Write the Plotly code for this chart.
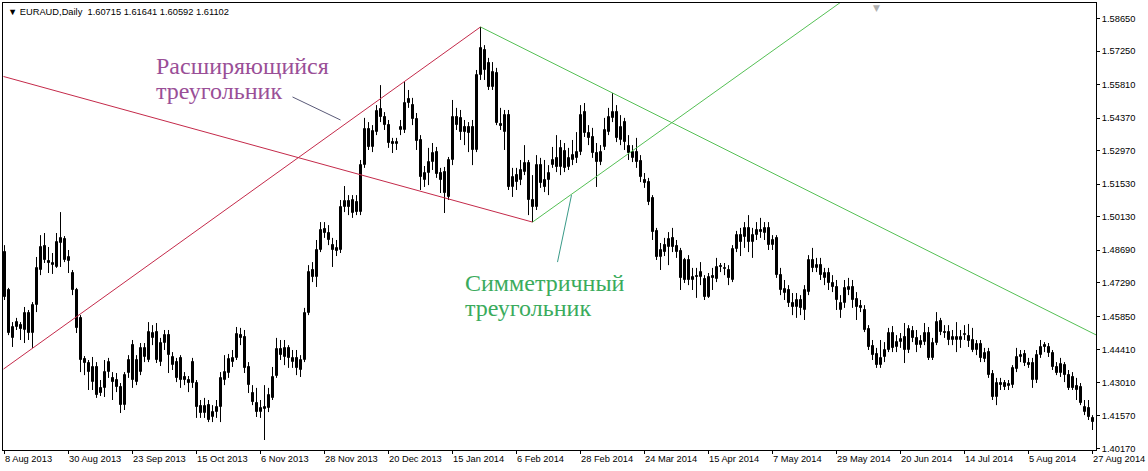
import plotly.graph_objects as go

# ---- EURAUD daily candles (8 Aug 2013 .. 27 Aug 2014) ----
open_prices = [
    1.4861, 1.4698, 1.4492, 1.4539, 1.4547, 1.4526, 1.4599, 1.4513, 1.4633, 1.4784,
    1.4887, 1.4823, 1.4805, 1.4797, 1.4900, 1.4917, 1.4823, 1.4771, 1.4698, 1.4578,
    1.4401, 1.4384, 1.4302, 1.4367, 1.4277, 1.4277, 1.4345, 1.4320, 1.4311, 1.4281,
    1.4203, 1.4341, 1.4461, 1.4302, 1.4345, 1.4410, 1.4397, 1.4492, 1.4517, 1.4388,
    1.4470, 1.4504, 1.4375, 1.4388, 1.4406, 1.4324, 1.4311, 1.4388, 1.4298, 1.4199,
    1.4169, 1.4203, 1.4152, 1.4173, 1.4195, 1.4311, 1.4341, 1.4388, 1.4406, 1.4504,
    1.4496, 1.4367, 1.4255, 1.4212, 1.4173, 1.4186, 1.4191, 1.4234, 1.4328, 1.4444,
    1.4410, 1.4449, 1.4388, 1.4406, 1.4354, 1.4397, 1.4599, 1.4784, 1.4754, 1.4870,
    1.4960, 1.4943, 1.4891, 1.4866, 1.4870, 1.5055, 1.5081, 1.5029, 1.5076, 1.5033,
    1.5235, 1.5390, 1.5313, 1.5377, 1.5476, 1.5442, 1.5407, 1.5334, 1.5326, 1.5386,
    1.5386, 1.5519, 1.5493, 1.5433, 1.5343, 1.5171, 1.5201, 1.5248, 1.5291, 1.5201,
    1.5205, 1.5098, 1.5257, 1.5442, 1.5438, 1.5399, 1.5399, 1.5399, 1.5300, 1.5622,
    1.5730, 1.5674, 1.5571, 1.5631, 1.5412, 1.5377, 1.5450, 1.5141, 1.5192, 1.5171,
    1.5205, 1.5244, 1.5085, 1.5055, 1.5235, 1.5171, 1.5171, 1.5235, 1.5266, 1.5227,
    1.5296, 1.5227, 1.5257, 1.5266, 1.5291, 1.5463, 1.5373, 1.5356, 1.5287, 1.5248,
    1.5313, 1.5377, 1.5438, 1.5463, 1.5343, 1.5420, 1.5317, 1.5266, 1.5291, 1.5253,
    1.5171, 1.5162, 1.5094, 1.4952, 1.4840, 1.4891, 1.4883, 1.4922, 1.4887, 1.4866,
    1.4827, 1.4827, 1.4741, 1.4758, 1.4754, 1.4745, 1.4668, 1.4758, 1.4745, 1.4801,
    1.4788, 1.4784, 1.4741, 1.4874, 1.4934, 1.4926, 1.4965, 1.4904, 1.4934, 1.4956,
    1.4943, 1.4965, 1.4891, 1.4922, 1.4762, 1.4685, 1.4698, 1.4642, 1.4625, 1.4655,
    1.4612, 1.4689, 1.4827, 1.4793, 1.4805, 1.4750, 1.4771, 1.4728, 1.4711, 1.4612,
    1.4642, 1.4698, 1.4711, 1.4659, 1.4629, 1.4612, 1.4530, 1.4457, 1.4423, 1.4375,
    1.4410, 1.4440, 1.4513, 1.4453, 1.4474, 1.4496, 1.4440, 1.4522, 1.4492, 1.4461,
    1.4474, 1.4513, 1.4406, 1.4470, 1.4565, 1.4517, 1.4517, 1.4483, 1.4483, 1.4483,
    1.4504, 1.4500, 1.4483, 1.4440, 1.4466, 1.4401, 1.4431, 1.4337, 1.4238, 1.4298,
    1.4298, 1.4285, 1.4289, 1.4358, 1.4410, 1.4423, 1.4384, 1.4384, 1.4311, 1.4418,
    1.4461, 1.4453, 1.4427, 1.4367, 1.4341, 1.4375, 1.4332, 1.4324, 1.4285, 1.4281,
    1.4173, 1.4191, 1.4148,
]
high_prices = [
    1.4891, 1.4707, 1.4560, 1.4578, 1.4560, 1.4625, 1.4612, 1.4646, 1.4840, 1.4934,
    1.4943, 1.4883, 1.4857, 1.4943, 1.5033, 1.4930, 1.4870, 1.4784, 1.4707, 1.4590,
    1.4414, 1.4397, 1.4410, 1.4388, 1.4311, 1.4397, 1.4406, 1.4345, 1.4341, 1.4298,
    1.4345, 1.4418, 1.4483, 1.4418, 1.4470, 1.4470, 1.4560, 1.4547, 1.4556, 1.4492,
    1.4526, 1.4526, 1.4431, 1.4406, 1.4418, 1.4345, 1.4328, 1.4406, 1.4311, 1.4225,
    1.4234, 1.4225, 1.4203, 1.4225, 1.4345, 1.4418, 1.4423, 1.4440, 1.4539, 1.4535,
    1.4526, 1.4388, 1.4289, 1.4277, 1.4225, 1.4289, 1.4277, 1.4367, 1.4492, 1.4483,
    1.4483, 1.4461, 1.4440, 1.4440, 1.4418, 1.4621, 1.4805, 1.4818, 1.4913, 1.4990,
    1.4990, 1.4977, 1.4922, 1.4913, 1.5085, 1.5145, 1.5106, 1.5106, 1.5106, 1.5257,
    1.5438, 1.5420, 1.5407, 1.5493, 1.5579, 1.5463, 1.5429, 1.5352, 1.5352, 1.5429,
    1.5592, 1.5558, 1.5524, 1.5459, 1.5364, 1.5231, 1.5309, 1.5330, 1.5313, 1.5223,
    1.5227, 1.5270, 1.5515, 1.5481, 1.5472, 1.5429, 1.5420, 1.5429, 1.5644, 1.5829,
    1.5751, 1.5696, 1.5678, 1.5653, 1.5481, 1.5472, 1.5472, 1.5223, 1.5223, 1.5257,
    1.5321, 1.5257, 1.5192, 1.5278, 1.5266, 1.5257, 1.5235, 1.5313, 1.5364, 1.5343,
    1.5330, 1.5309, 1.5343, 1.5377, 1.5493, 1.5502, 1.5407, 1.5395, 1.5330, 1.5321,
    1.5438, 1.5481, 1.5545, 1.5493, 1.5450, 1.5438, 1.5364, 1.5321, 1.5352, 1.5278,
    1.5201, 1.5180, 1.5106, 1.4965, 1.4900, 1.4922, 1.4947, 1.4965, 1.4913, 1.4879,
    1.4836, 1.4848, 1.4793, 1.4793, 1.4818, 1.4762, 1.4771, 1.4793, 1.4836, 1.4814,
    1.4814, 1.4805, 1.4891, 1.4952, 1.4965, 1.4990, 1.5020, 1.4965, 1.4990, 1.5008,
    1.4990, 1.4990, 1.4934, 1.4934, 1.4793, 1.4741, 1.4719, 1.4685, 1.4685, 1.4676,
    1.4719, 1.4848, 1.4879, 1.4836, 1.4836, 1.4793, 1.4793, 1.4762, 1.4741, 1.4676,
    1.4741, 1.4750, 1.4741, 1.4689, 1.4655, 1.4633, 1.4547, 1.4483, 1.4449, 1.4483,
    1.4474, 1.4535, 1.4543, 1.4504, 1.4513, 1.4556, 1.4547, 1.4543, 1.4526, 1.4504,
    1.4556, 1.4539, 1.4492, 1.4603, 1.4578, 1.4547, 1.4547, 1.4526, 1.4560, 1.4526,
    1.4547, 1.4552, 1.4535, 1.4483, 1.4483, 1.4449, 1.4449, 1.4354, 1.4320, 1.4320,
    1.4311, 1.4311, 1.4375, 1.4449, 1.4440, 1.4440, 1.4406, 1.4406, 1.4440, 1.4483,
    1.4474, 1.4470, 1.4440, 1.4388, 1.4406, 1.4388, 1.4354, 1.4345, 1.4320, 1.4298,
    1.4225, 1.4225, 1.4160,
]
low_prices = [
    1.4655, 1.4504, 1.4453, 1.4526, 1.4483, 1.4470, 1.4483, 1.4449, 1.4603, 1.4762,
    1.4814, 1.4771, 1.4767, 1.4793, 1.4797, 1.4818, 1.4771, 1.4676, 1.4513, 1.4345,
    1.4332, 1.4268, 1.4268, 1.4234, 1.4242, 1.4238, 1.4320, 1.4225, 1.4259, 1.4169,
    1.4182, 1.4320, 1.4277, 1.4289, 1.4332, 1.4388, 1.4388, 1.4461, 1.4384, 1.4371,
    1.4440, 1.4341, 1.4354, 1.4302, 1.4277, 1.4289, 1.4259, 1.4277, 1.4148, 1.4148,
    1.4148, 1.4130, 1.4130, 1.4148, 1.4130, 1.4289, 1.4320, 1.4367, 1.4397, 1.4461,
    1.4341, 1.4255, 1.4203, 1.4152, 1.4148, 1.4053, 1.4173, 1.4225, 1.4320, 1.4397,
    1.4375, 1.4363, 1.4363, 1.4332, 1.4324, 1.4388, 1.4590, 1.4732, 1.4711, 1.4861,
    1.4922, 1.4891, 1.4797, 1.4844, 1.4857, 1.5033, 1.5020, 1.5008, 1.5020, 1.5020,
    1.5223, 1.5300, 1.5291, 1.5364, 1.5420, 1.5386, 1.5309, 1.5287, 1.5300, 1.5364,
    1.5373, 1.5481, 1.5407, 1.5300, 1.5128, 1.5141, 1.5149, 1.5214, 1.5180, 1.5115,
    1.5029, 1.5085, 1.5235, 1.5386, 1.5343, 1.5321, 1.5291, 1.5235, 1.5291, 1.5601,
    1.5601, 1.5558, 1.5558, 1.5407, 1.5386, 1.5300, 1.5128, 1.5098, 1.5128, 1.5149,
    1.5192, 1.5020, 1.4990, 1.5042, 1.5137, 1.5119, 1.5106, 1.5223, 1.5205, 1.5192,
    1.5205, 1.5214, 1.5235, 1.5244, 1.5278, 1.5356, 1.5321, 1.5266, 1.5141, 1.5235,
    1.5300, 1.5364, 1.5420, 1.5334, 1.5321, 1.5300, 1.5257, 1.5248, 1.5223, 1.5162,
    1.5137, 1.5063, 1.4913, 1.4827, 1.4784, 1.4844, 1.4805, 1.4861, 1.4836, 1.4698,
    1.4728, 1.4719, 1.4698, 1.4664, 1.4719, 1.4655, 1.4664, 1.4698, 1.4732, 1.4775,
    1.4762, 1.4719, 1.4732, 1.4861, 1.4844, 1.4879, 1.4861, 1.4836, 1.4913, 1.4922,
    1.4913, 1.4870, 1.4870, 1.4750, 1.4676, 1.4655, 1.4625, 1.4590, 1.4578, 1.4590,
    1.4569, 1.4676, 1.4775, 1.4775, 1.4741, 1.4719, 1.4698, 1.4689, 1.4612, 1.4578,
    1.4621, 1.4676, 1.4621, 1.4569, 1.4603, 1.4517, 1.4440, 1.4397, 1.4363, 1.4363,
    1.4388, 1.4431, 1.4431, 1.4431, 1.4449, 1.4384, 1.4427, 1.4474, 1.4431, 1.4449,
    1.4461, 1.4397, 1.4397, 1.4461, 1.4504, 1.4492, 1.4461, 1.4461, 1.4431, 1.4449,
    1.4483, 1.4453, 1.4431, 1.4418, 1.4388, 1.4388, 1.4320, 1.4225, 1.4203, 1.4268,
    1.4268, 1.4268, 1.4277, 1.4345, 1.4388, 1.4371, 1.4363, 1.4277, 1.4298, 1.4406,
    1.4431, 1.4410, 1.4354, 1.4332, 1.4324, 1.4302, 1.4268, 1.4268, 1.4225, 1.4203,
    1.4160, 1.4139, 1.4096,
]
close_prices = [
    1.4668, 1.4513, 1.4539, 1.4560, 1.4530, 1.4599, 1.4513, 1.4633, 1.4793, 1.4883,
    1.4827, 1.4814, 1.4814, 1.4904, 1.4922, 1.4827, 1.4840, 1.4698, 1.4535, 1.4397,
    1.4384, 1.4345, 1.4367, 1.4246, 1.4255, 1.4345, 1.4388, 1.4302, 1.4281, 1.4203,
    1.4332, 1.4397, 1.4311, 1.4397, 1.4449, 1.4449, 1.4517, 1.4513, 1.4397, 1.4470,
    1.4504, 1.4418, 1.4410, 1.4320, 1.4311, 1.4311, 1.4298, 1.4298, 1.4195, 1.4169,
    1.4199, 1.4139, 1.4173, 1.4195, 1.4320, 1.4345, 1.4401, 1.4406, 1.4509, 1.4492,
    1.4363, 1.4289, 1.4216, 1.4173, 1.4191, 1.4195, 1.4246, 1.4324, 1.4444, 1.4418,
    1.4449, 1.4406, 1.4406, 1.4363, 1.4397, 1.4599, 1.4775, 1.4754, 1.4870, 1.4956,
    1.4943, 1.4913, 1.4870, 1.4879, 1.5055, 1.5081, 1.5055, 1.5085, 1.5033, 1.5235,
    1.5390, 1.5313, 1.5382, 1.5468, 1.5442, 1.5407, 1.5330, 1.5326, 1.5334, 1.5399,
    1.5502, 1.5502, 1.5433, 1.5339, 1.5184, 1.5201, 1.5248, 1.5287, 1.5197, 1.5171,
    1.5115, 1.5257, 1.5442, 1.5407, 1.5377, 1.5377, 1.5373, 1.5300, 1.5622, 1.5739,
    1.5644, 1.5571, 1.5635, 1.5416, 1.5403, 1.5450, 1.5141, 1.5184, 1.5162, 1.5214,
    1.5244, 1.5085, 1.5055, 1.5235, 1.5158, 1.5141, 1.5201, 1.5257, 1.5227, 1.5309,
    1.5223, 1.5266, 1.5278, 1.5291, 1.5450, 1.5373, 1.5352, 1.5287, 1.5248, 1.5291,
    1.5386, 1.5442, 1.5463, 1.5352, 1.5399, 1.5334, 1.5287, 1.5291, 1.5248, 1.5184,
    1.5158, 1.5076, 1.4947, 1.4840, 1.4870, 1.4861, 1.4917, 1.4883, 1.4861, 1.4750,
    1.4741, 1.4741, 1.4754, 1.4754, 1.4775, 1.4668, 1.4754, 1.4750, 1.4797, 1.4797,
    1.4793, 1.4750, 1.4874, 1.4934, 1.4904, 1.4965, 1.4904, 1.4934, 1.4956, 1.4947,
    1.4965, 1.4891, 1.4913, 1.4762, 1.4698, 1.4702, 1.4642, 1.4625, 1.4655, 1.4621,
    1.4698, 1.4827, 1.4793, 1.4805, 1.4762, 1.4771, 1.4728, 1.4711, 1.4655, 1.4642,
    1.4707, 1.4711, 1.4655, 1.4625, 1.4621, 1.4526, 1.4453, 1.4418, 1.4375, 1.4406,
    1.4440, 1.4513, 1.4449, 1.4474, 1.4487, 1.4440, 1.4530, 1.4492, 1.4461, 1.4479,
    1.4513, 1.4406, 1.4470, 1.4560, 1.4517, 1.4513, 1.4483, 1.4496, 1.4496, 1.4496,
    1.4509, 1.4479, 1.4440, 1.4466, 1.4406, 1.4427, 1.4332, 1.4238, 1.4298, 1.4289,
    1.4281, 1.4294, 1.4363, 1.4410, 1.4418, 1.4384, 1.4375, 1.4311, 1.4418, 1.4453,
    1.4453, 1.4427, 1.4367, 1.4341, 1.4380, 1.4332, 1.4277, 1.4277, 1.4268, 1.4212,
    1.4195, 1.4152, 1.4130,
]
bar_index = list(range(len(close_prices)))

# date labels every 16 daily bars
label_bars = [0, 16, 32, 48, 64, 80, 96, 112, 128, 144, 160, 176, 192, 208, 224, 240, 256, 272]
date_labels = ["8 Aug 2013", "30 Aug 2013", "23 Sep 2013", "15 Oct 2013", "6 Nov 2013",
               "28 Nov 2013", "20 Dec 2013", "15 Jan 2014", "6 Feb 2014", "28 Feb 2014",
               "24 Mar 2014", "15 Apr 2014", "7 May 2014", "29 May 2014", "20 Jun 2014",
               "14 Jul 2014", "5 Aug 2014", "27 Aug 2014"]

price_ticks = [1.40170, 1.41570, 1.43010, 1.44410, 1.45850, 1.47290, 1.48690,
               1.50130, 1.51530, 1.52970, 1.54370, 1.55810, 1.57250, 1.58650]
price_tick_text = ["%.5f" % v for v in price_ticks]

# trend lines (bar index, price)
expanding_upper_x, expanding_upper_y = [-0.25, 119], [1.4358, 1.5829]
expanding_lower_x, expanding_lower_y = [-0.25, 132], [1.5616, 1.4990]
symmetric_upper_x, symmetric_upper_y = [119, 273], [1.5829, 1.4504]
symmetric_lower_x, symmetric_lower_y = [132, 210], [1.4990, 1.5947]

RED = "#c42a4a"
GREEN = "#55c055"
PURPLE_TXT = "#9a4f97"
GREEN_TXT = "#3aab5c"
AXIS_FONT = dict(family="Liberation Sans, Arial, sans-serif", size=9.3, color="#000000")

fig = go.Figure()

# wicks (high-low) as one broken line
wick_x, wick_y = [], []
for i, h, l in zip(bar_index, high_prices, low_prices):
    wick_x += [i, i, None]
    wick_y += [h, l, None]
fig.add_trace(go.Scatter(x=wick_x, y=wick_y, mode="lines",
                         line=dict(color="#000000", width=1),
                         showlegend=False, hoverinfo="skip"))

# candle bodies: bullish (white) and bearish (black)
for bullish, fill in [(True, "#ffffff"), (False, "#000000")]:
    xs, base, size = [], [], []
    for i, o, c in zip(bar_index, open_prices, close_prices):
        if (c > o) == bullish:
            xs.append(i)
            base.append(min(o, c))
            size.append(max(abs(c - o), 0.00012))
    fig.add_trace(go.Bar(x=xs, y=size, base=base, width=0.5,
                         marker=dict(color=fill, line=dict(color="#000000", width=1)),
                         showlegend=False, hoverinfo="skip"))

for xs, ys, col in [(expanding_upper_x, expanding_upper_y, RED),
                    (expanding_lower_x, expanding_lower_y, RED),
                    (symmetric_upper_x, symmetric_upper_y, GREEN),
                    (symmetric_lower_x, symmetric_lower_y, GREEN)]:
    fig.add_trace(go.Scatter(x=xs, y=ys, mode="lines", line=dict(color=col, width=1),
                             showlegend=False, hoverinfo="skip"))

# pointer lines for the captions
fig.add_trace(go.Scatter(x=[72, 84], y=[1.5528, 1.5429], mode="lines",
                         line=dict(color="#5a5a78", width=1), showlegend=False, hoverinfo="skip"))
fig.add_trace(go.Scatter(x=[138.25, 141.75], y=[1.4818, 1.5106], mode="lines",
                         line=dict(color="#3a9a88", width=1), showlegend=False, hoverinfo="skip"))

annotations = []
SERIF = "Liberation Serif, Times New Roman, serif"
for text, xx, yy, col in [("Расширяющийся", 37.25, 1.5661, PURPLE_TXT),
                          ("треугольник", 37.25, 1.5554, PURPLE_TXT),
                          ("Симметричный", 114.5, 1.4728, GREEN_TXT),
                          ("треугольник", 114.5, 1.4621, GREEN_TXT)]:
    annotations.append(dict(x=xx, y=yy, xref="x", yref="y", text=text, showarrow=False,
                            xanchor="left", yanchor="middle",
                            font=dict(family=SERIF, size=24, color=col)))

for b, lab in zip(label_bars, date_labels):
    annotations.append(dict(x=b, y=0, xref="x", yref="paper", text=lab, showarrow=False,
                            xanchor="left", yanchor="top", xshift=-2, yshift=-2,
                            font=AXIS_FONT))

annotations.append(dict(x=0, y=1, xref="paper", yref="paper", xanchor="left", yanchor="top",
                        xshift=3, yshift=-2, showarrow=False,
                        text="▼ EURAUD,Daily  1.60715 1.61641 1.60592 1.61102",
                        font=AXIS_FONT))
annotations.append(dict(x=218, y=1, xref="x", yref="paper", xanchor="center", yanchor="top",
                        showarrow=False, text="▼", yshift=2,
                        font=dict(family="DejaVu Sans", size=9, color="#b0b0b0")))

fig.update_layout(
    width=1148, height=471,
    margin=dict(l=3, r=52, t=3, b=21),
    paper_bgcolor="#ffffff", plot_bgcolor="#ffffff",
    showlegend=False, barmode="overlay", bargap=0,
    annotations=annotations,
    xaxis=dict(range=[-0.375, 272.875], showgrid=False, zeroline=False,
               showline=True, linecolor="#000000", linewidth=1, mirror=True,
               tickmode="array", tickvals=label_bars, ticktext=[""] * len(label_bars),
               ticks="outside", ticklen=3, tickcolor="#000000", fixedrange=True),
    yaxis=dict(range=[1.4010, 1.5932], side="right", showgrid=False, zeroline=False,
               showline=True, linecolor="#000000", linewidth=1, mirror=True,
               tickmode="array", tickvals=price_ticks, ticktext=price_tick_text,
               ticks="outside", ticklen=3, tickcolor="#000000",
               tickfont=AXIS_FONT, fixedrange=True),
)

fig.write_html("out.html", config={"displayModeBar": False},
               post_script="document.body.style.margin='0';")
